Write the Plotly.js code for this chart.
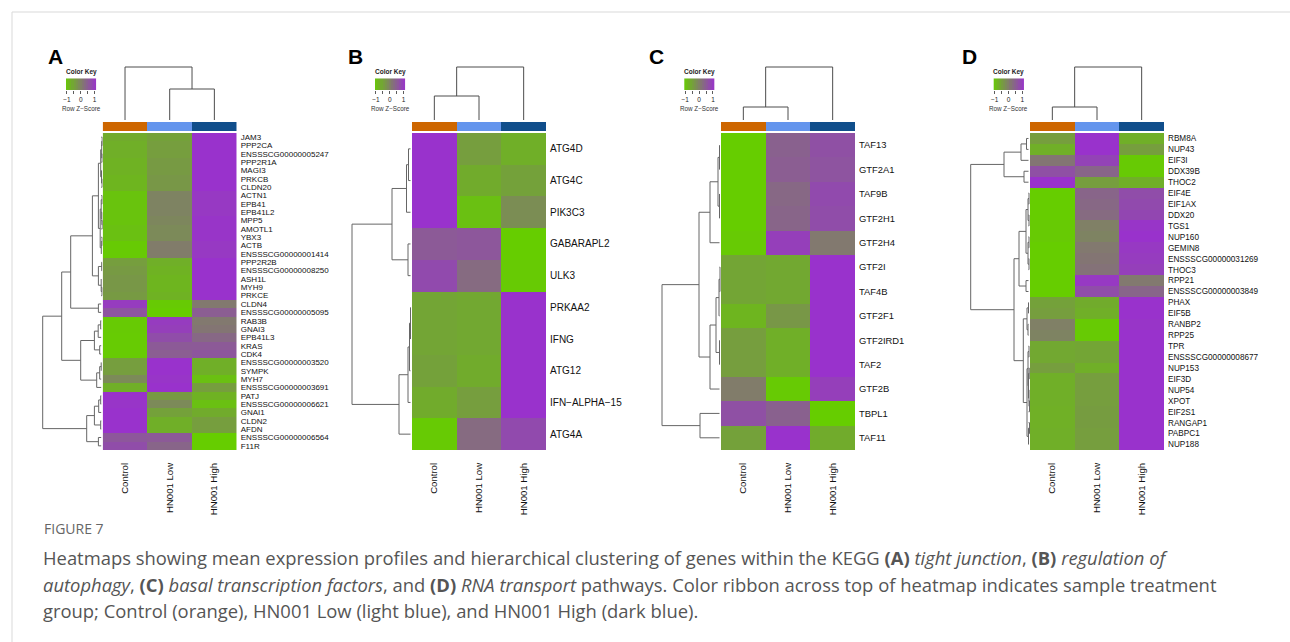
<!DOCTYPE html>
<html>
<head>
<meta charset="utf-8">
<script src="https://cdn.plot.ly/plotly-3.0.1.min.js"></script>
<style>
html,body{margin:0;padding:0;background:#fff;}
#chart{width:1290px;height:642px;}
</style>
</head>
<body>
<div id="chart"></div>
<script>
// ---------------- DATA ----------------
const groups = ['Control', 'HN001 Low', 'HN001 High'];
const ribbonColors = ['#CD6600', '#6495ED', '#104E8B'];
const keyTickVals = [-1, -0.5, 0, 0.5, 1];
const keyTickText = ['\u22121', '', '0', '', '1'];
const keyValues = [-1.05, -0.9, -0.75, -0.6, -0.45, -0.3, -0.15, 0, 0.15, 0.3, 0.45, 0.6, 0.75, 0.9, 1.05];

const genesA = ['JAM3','PPP2CA','ENSSSCG00000005247','PPP2R1A','MAGI3','PRKCB','CLDN20','ACTN1','EPB41','EPB41L2','MPP5','AMOTL1','YBX3','ACTB','ENSSSCG00000001414','PPP2R2B','ENSSSCG00000008250','ASH1L','MYH9','PRKCE','CLDN4','ENSSSCG00000005095','RAB3B','GNAI3','EPB41L3','KRAS','CDK4','ENSSSCG00000003520','SYMPK','MYH7','ENSSSCG00000003691','PATJ','ENSSSCG00000006621','GNAI1','CLDN2','AFDN','ENSSSCG00000006564','F11R'];
const zA = [
 [-0.65,-0.5,1.15],[-0.7,-0.45,1.15],[-0.7,-0.45,1.15],[-0.75,-0.4,1.15],[-0.75,-0.4,1.15],[-0.8,-0.35,1.15],[-0.8,-0.35,1.15],
 [-1.0,-0.05,1.05],[-1.0,-0.05,1.05],[-1.0,-0.05,1.05],[-1.0,-0.1,1.1],[-0.95,-0.15,1.1],[-0.95,-0.15,1.1],[-1.1,0.05,1.05],[-1.1,0.05,1.05],
 [-0.45,-0.7,1.15],[-0.4,-0.75,1.15],[-0.35,-0.8,1.15],[-0.35,-0.8,1.15],[-0.4,-0.75,1.15],
 [1.0,-1.1,0.1],[0.65,-1.15,0.5],
 [-1.1,1.0,0.1],[-1.1,0.95,0.15],[-1.12,0.75,0.35],[-1.12,0.55,0.55],[-1.12,0.5,0.62],
 [-0.45,1.15,-0.7],[-0.45,1.15,-0.7],[-0.15,1.1,-0.95],[-0.7,1.15,-0.45],
 [1.15,-0.4,-0.75],[1.1,-0.15,-0.95],[1.15,-0.5,-0.65],[1.15,-0.7,-0.45],[1.15,-0.7,-0.45],
 [0.6,0.55,-1.15],[0.75,0.4,-1.15]
];
const rowTreeA = [60, [41, [32, [10.3, [4.3, [2, [1,[0.5,0,1],[0.6,2,3]], [1.2,4,[0.6,5,6]]], [2.5, [1.5,[0.6,7,8],[0.8,9,[0.4,10,11]]], [1.4,[0.6,12,13],14]]], [4.3,[1,15,16],[1.5,17,[0.7,18,19]]]], [4.3,20,21]], [22, [8.3,[4.5,[2,22,23],24],[3,25,26]], [6,[3,[1.5,27,28],29],30]]], [16, [8.3,[4,[2,31,32],33],[2,34,35]], [4.3,36,37]]];
const colTreeA = [53, 0, [31, 1, 2]];

const genesB = ['ATG4D','ATG4C','PIK3C3','GABARAPL2','ULK3','PRKAA2','IFNG','ATG12','IFN\u2212ALPHA\u221215','ATG4A'];
const zB = [
 [1.15,-0.45,-0.7],[1.15,-0.65,-0.5],[1.15,-0.95,-0.2],[0.55,0.6,-1.15],[0.8,0.3,-1.1],
 [-0.55,-0.6,1.15],[-0.55,-0.6,1.15],[-0.5,-0.65,1.15],[-0.65,-0.45,1.15],[-1.1,0.3,0.8]
];
const rowTreeB = [60, [20, [5.5,[3.5,0,1],2], [4,3,4]], [13, [4,[2.5,[1.5,5,6],7],8], 9]];
const colTreeB = [53, [24, 0, 1], 2];

const genesC = ['TAF13','GTF2A1','TAF9B','GTF2H1','GTF2H4','GTF2I','TAF4B','GTF2F1','GTF2IRD1','TAF2','GTF2B','TBPL1','TAF11'];
const zC = [
 [-1.15,0.45,0.7],[-1.15,0.5,0.65],[-1.15,0.35,0.8],[-1.15,0.4,0.75],[-1.1,0.95,0.1],
 [-0.55,-0.6,1.15],[-0.55,-0.6,1.15],[-0.8,-0.35,1.15],[-0.45,-0.7,1.15],[-0.45,-0.7,1.15],
 [0.05,-1.1,0.95],[0.7,0.45,-1.15],[-0.5,1.15,-0.65]
];
const rowTreeC = [59, [22, [11, [3,[1.5,0,1],[1.5,2,3]], 4], [11, [5,[2,[1,5,6],7],[1.5,8,9]], 10]], [21, 11, 12]];
const colTreeC = [53, [13, 0, 1], 2];

const genesD = ['RBM8A','NUP43','EIF3I','DDX39B','THOC2','EIF4E','EIF1AX','DDX20','TGS1','NUP160','GEMIN8','ENSSSCG00000031269','THOC3','RPP21','ENSSSCG00000003849','PHAX','EIF5B','RANBP2','RPP25','TPR','ENSSSCG00000008677','NUP153','EIF3D','NUP54','XPOT','EIF2S1','RANGAP1','PABPC1','NUP188'];
const zD = [
 [-0.45,1.15,-0.7],[-0.7,1.15,-0.45],[0.15,0.9,-1.1],[0.7,0.4,-1.1],[1.15,-0.45,-0.7],
 [-1.15,0.4,0.75],[-1.15,0.35,0.8],[-1.15,0.3,0.85],[-1.1,0.0,1.1],[-1.1,-0.05,1.15],[-1.15,0.1,1.05],[-1.15,0.15,1.0],[-1.15,0.2,0.95],
 [-1.15,1.05,0.1],[-1.15,0.75,0.4],
 [-0.5,-0.65,1.15],[-0.45,-0.7,1.15],[0.0,-1.1,1.1],[-0.05,-1.1,1.15],
 [-0.6,-0.55,1.15],[-0.6,-0.55,1.15],[-0.45,-0.7,1.15],[-0.7,-0.45,1.15],[-0.7,-0.45,1.15],[-0.7,-0.45,1.15],[-0.72,-0.43,1.15],[-0.72,-0.43,1.15],[-0.7,-0.45,1.15],[-0.7,-0.45,1.15]
];
const rowTreeD = [59.3, [26, [9,[3.5,0,1],2], [6,3,4]], [16, [11, [4,[2,[1,5,6],[1,7,8]],[2,[1,9,10],[1,11,12]]], [4,13,14]], [6.7, [3,[1.5,15,16],[2,17,18]], [3, [2,[1,19,20],[1.5,[0.8,21,22],[1,23,[0.5,24,25]]]], [1.5,[0.5,26,27],28]]]]];
const colTreeD = [53, [13, 0, 1], 2];

const panelLetters = ['A', 'B', 'C', 'D'];

const captionLines = [
 'Heatmaps showing mean expression profiles and hierarchical clustering of genes within the KEGG <b>(A)</b> <i>tight junction</i>, <b>(B)</b> <i>regulation of</i>',
 '<i>autophagy</i>, <b>(C)</b> <i>basal transcription factors</i>, and <b>(D)</b> <i>RNA transport</i> pathways. Color ribbon across top of heatmap indicates sample treatment',
 'group; Control (orange), HN001 Low (light blue), and HN001 High (dark blue).'
];

// ---------------- LAYOUT GEOMETRY (px) ----------------
const W = 1290, H = 642;
const xd = (a, b) => [a / W, b / W];
const yd = (top, bottom) => [1 - bottom / H, 1 - top / H];
const HEAT_TOP = 133, HEAT_BOT = 450, HEAT_W = 134;
const RIB_TOP = 122, RIB_BOT = 131;
const COLD_TOP = 58, COLD_BOT = 120;
const KEY_TOP = 78.3, KEY_BOT = 90, KEY_W = 30.3;
const FONT = 'Liberation Sans, Arial, sans-serif';
const greenPurple = [[0, '#66CD00'], [1, '#9932CC']];
const ZLIM = 1.15;

const panels = [
  {genes: genesA, z: zA, rowTree: rowTreeA, colTree: colTreeA, heatLeft: 102.7, labelSize: 8, keyLeft: 66, letterX: 55},
  {genes: genesB, z: zB, rowTree: rowTreeB, colTree: colTreeB, heatLeft: 412, labelSize: 10, keyLeft: 375, letterX: 355},
  {genes: genesC, z: zC, rowTree: rowTreeC, colTree: colTreeC, heatLeft: 721, labelSize: 9.4, keyLeft: 684.3, letterX: 656},
  {genes: genesD, z: zD, rowTree: rowTreeD, colTree: colTreeD, heatLeft: 1030, labelSize: 8.2, keyLeft: 993.7, letterX: 969}
];

// dendrogram segments from nested [height, left, right] trees
function dendroSegs(tree, leafH) {
  const pos = [], hs = [];
  function walk(node) {
    if (typeof node === 'number') return {p: node, h: leafH};
    const a = walk(node[1]), b = walk(node[2]);
    pos.push(a.p, a.p, b.p, b.p, null);
    hs.push(a.h, node[0], node[0], b.h, null);
    return {p: (a.p + b.p) / 2, h: node[0]};
  }
  walk(tree);
  return {pos, hs};
}

const data = [];
const layout = {
  width: W, height: H,
  margin: {l: 0, r: 0, t: 0, b: 0},
  paper_bgcolor: '#fff', plot_bgcolor: 'rgba(0,0,0,0)',
  showlegend: false,
  font: {family: FONT, color: '#000'},
  annotations: [],
  shapes: [
    {type: 'line', xref: 'paper', yref: 'paper', x0: 12 / W, x1: 1, y0: 1 - 12 / H, y1: 1 - 12 / H, line: {color: '#d9d9d9', width: 1}},
    {type: 'line', xref: 'paper', yref: 'paper', x0: 12 / W, x1: 12 / W, y0: 0, y1: 1 - 12 / H, line: {color: '#d9d9d9', width: 1}}
  ]
};
const hidden = {visible: false, showgrid: false, zeroline: false, fixedrange: true};

panels.forEach((P, i) => {
  const xi = 3 * i, yi = 4 * i;
  const xH = 'x' + (xi + 1 === 1 ? '' : xi + 1), xR = 'x' + (xi + 2), xK = 'x' + (xi + 3);
  const yH = 'y' + (yi + 1 === 1 ? '' : yi + 1), yRb = 'y' + (yi + 2), yC = 'y' + (yi + 3), yK = 'y' + (yi + 4);
  const axName = s => s.replace('x', 'xaxis').replace('y', 'yaxis');
  const n = P.genes.length;
  const L = P.heatLeft, R = P.heatLeft + HEAT_W;
  const rows = P.genes.map((g, k) => k);

  // main heatmap
  data.push({type: 'heatmap', x: [0, 1, 2], y: rows, z: P.z, colorscale: greenPurple,
    zmin: -ZLIM, zmax: ZLIM, showscale: false, hoverinfo: 'skip', xaxis: xH, yaxis: yH});
  // color ribbon
  data.push({type: 'heatmap', x: [0, 1, 2], y: [0], z: [[0, 1, 2]],
    colorscale: [[0, ribbonColors[0]], [0.5, ribbonColors[1]], [1, ribbonColors[2]]],
    zmin: 0, zmax: 2, showscale: false, hoverinfo: 'skip', xaxis: xH, yaxis: yRb});
  // column dendrogram
  const cd = dendroSegs(P.colTree, 0);
  data.push({type: 'scatter', mode: 'lines', x: cd.pos, y: cd.hs, line: {color: '#4d4d4d', width: 1},
    hoverinfo: 'skip', xaxis: xH, yaxis: yC});
  // row dendrogram
  const rd = dendroSegs(P.rowTree, 1.5);
  data.push({type: 'scatter', mode: 'lines', x: rd.hs, y: rd.pos, line: {color: '#666', width: 1},
    hoverinfo: 'skip', xaxis: xR, yaxis: yH});
  // color key
  data.push({type: 'heatmap', x: keyValues, y: [0], z: [keyValues], colorscale: greenPurple,
    zmin: -ZLIM, zmax: ZLIM, showscale: false, hoverinfo: 'skip', xaxis: xK, yaxis: yK});

  layout[axName(xH)] = {domain: xd(L, R), range: [-0.5, 2.5], anchor: yH, showgrid: false, zeroline: false,
    tickmode: 'array', tickvals: [0, 1, 2], ticktext: groups, tickangle: -90, ticks: '', showline: false,
    tickfont: {family: FONT, size: 9.6, color: '#111'}, ticklabelstandoff: 10, fixedrange: true};
  layout[axName(yH)] = {domain: yd(HEAT_TOP, HEAT_BOT), range: [n - 0.5, -0.5], anchor: xH, side: 'right',
    showgrid: false, zeroline: false, tickmode: 'array', tickvals: rows, ticktext: P.genes, ticks: '',
    tickfont: {family: FONT, size: P.labelSize, color: '#111'}, ticklabelstandoff: 3, fixedrange: true};
  layout[axName(yRb)] = Object.assign({}, hidden, {domain: yd(RIB_TOP, RIB_BOT), range: [-0.5, 0.5], anchor: xH});
  layout[axName(yC)] = Object.assign({}, hidden, {domain: yd(COLD_TOP, COLD_BOT), range: [0, COLD_BOT - COLD_TOP], anchor: xH});
  layout[axName(xR)] = Object.assign({}, hidden, {domain: xd(L - 64, L), range: [64, 0], anchor: yH});
  layout[axName(xK)] = {domain: xd(P.keyLeft, P.keyLeft + KEY_W), range: [-1.07, 1.12], anchor: yK,
    showgrid: false, zeroline: false, tickmode: 'array', tickvals: keyTickVals, ticktext: keyTickText,
    ticks: 'outside', ticklen: 3, tickwidth: 0.8, tickcolor: '#333', showline: false,
    tickfont: {family: FONT, size: 6.5, color: '#222'}, fixedrange: true};
  layout[axName(yK)] = Object.assign({}, hidden, {domain: yd(KEY_TOP, KEY_BOT), range: [-0.5, 0.5], anchor: xK});

  const kc = (P.keyLeft + KEY_W / 2) / W;
  layout.annotations.push(
    {xref: 'paper', yref: 'paper', x: P.letterX / W, y: 1 - 56 / H, text: '<b>' + panelLetters[i] + '</b>',
     showarrow: false, xanchor: 'center', yanchor: 'middle', font: {family: FONT, size: 21, color: '#000'}},
    {xref: 'paper', yref: 'paper', x: kc, y: 1 - 72.5 / H, text: '<b>Color Key</b>',
     showarrow: false, xanchor: 'center', yanchor: 'middle', font: {family: FONT, size: 6.5, color: '#222'}},
    {xref: 'paper', yref: 'paper', x: kc, y: 1 - 108.3 / H, text: 'Row Z\u2212Score',
     showarrow: false, xanchor: 'center', yanchor: 'middle', font: {family: FONT, size: 6.3, color: '#333'}}
  );
});

// caption
layout.annotations.push({xref: 'paper', yref: 'paper', x: 42 / W, y: 1 - 528 / H, text: 'FIGURE 7',
  showarrow: false, xanchor: 'left', yanchor: 'middle', font: {family: 'Open Sans, sans-serif', size: 14, color: '#666'}});
captionLines.forEach((t, k) => {
  layout.annotations.push({xref: 'paper', yref: 'paper', x: 41 / W, y: 1 - (557.5 + 26.5 * k) / H, text: t,
    showarrow: false, xanchor: 'left', yanchor: 'middle', align: 'left',
    font: {family: 'Open Sans, sans-serif', size: 18.4, color: '#555'}});
});

Plotly.newPlot('chart', data, layout, {displayModeBar: false, staticPlot: true});
</script>
</body>
</html>
